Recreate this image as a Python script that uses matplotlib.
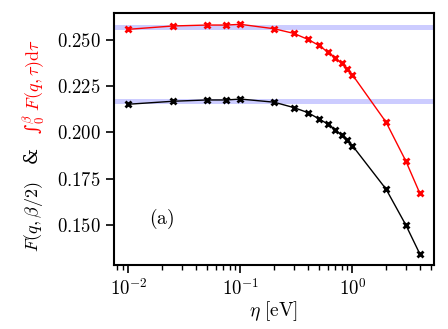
import numpy as np
import matplotlib
matplotlib.use("Agg")
import matplotlib.pyplot as plt
from matplotlib.ticker import FixedLocator, FuncFormatter, LogLocator, NullFormatter, NullLocator

plt.rcParams["mathtext.fontset"] = "cm"
plt.rcParams["font.family"] = "serif"

# eta values [eV]
eta = [0.01, 0.025, 0.05, 0.075, 0.1, 0.2, 0.3, 0.4, 0.5, 0.6, 0.7, 0.8, 0.9, 1.0, 2.0, 3.0, 4.0]

# integral over tau (red)
f_int = [0.2555, 0.2573, 0.2578, 0.2578, 0.2582, 0.2558, 0.2533, 0.2501, 0.2469,
         0.2434, 0.2402, 0.2372, 0.2341, 0.2310, 0.2054, 0.1845, 0.1671]

# F(q, beta/2) (black)
f_half = [0.2151, 0.2167, 0.2174, 0.2174, 0.2179, 0.2162, 0.2133, 0.2106, 0.2073,
          0.2045, 0.2014, 0.1985, 0.1957, 0.1928, 0.1693, 0.1500, 0.1344]

# reference levels (blue bands)
ref_int = 0.2569
ref_half = 0.2167

y_ticks = [0.150, 0.175, 0.200, 0.225, 0.250]
x_ticks = [0.01, 0.1, 1.0]
x_labels = [r"$10^{-2}$", r"$10^{-1}$", r"$10^{0}$"]

fig = plt.figure(figsize=(4.48, 3.29), dpi=100)
ax = fig.add_axes([0.2545, 0.1945, 0.7143, 0.766])

ax.axhline(ref_int, color="#ccccff", lw=3.6, zorder=1)
ax.axhline(ref_half, color="#ccccff", lw=3.6, zorder=1)

ax.plot(eta, f_int, color="red", lw=1.0, marker="x", ms=5, mew=2, zorder=3)
ax.plot(eta, f_half, color="black", lw=1.0, marker="x", ms=5, mew=2, zorder=3)

ax.set_xscale("log")
ax.set_xlim(10 ** -2.128, 10 ** 0.729)
ax.set_ylim(0.1284, 0.2643)

ax.xaxis.set_major_locator(FixedLocator(x_ticks))
ax.set_xticklabels(x_labels)
ax.xaxis.set_minor_locator(LogLocator(base=10, subs=np.arange(2, 10)))
ax.xaxis.set_minor_formatter(NullFormatter())
ax.yaxis.set_major_locator(FixedLocator(y_ticks))
ax.yaxis.set_minor_locator(NullLocator())
ax.yaxis.set_major_formatter(FuncFormatter(lambda v, p: f"${v:.3f}$"))

ax.tick_params(axis="both", which="major", direction="out", length=6, width=1.2,
               labelsize=13.5, top=False, right=False)
ax.tick_params(axis="x", which="minor", direction="out", length=3.5, width=1.0, top=False)
for s in ax.spines.values():
    s.set_linewidth(1.5)

ax.set_xlabel(r"$\eta\ \mathrm{[eV]}$", fontsize=14, labelpad=0)
ax.text(0.01 * 10 ** 0.3, 0.153, r"$\mathrm{(a)}$", fontsize=14, ha="center", va="center")

fig.text(0.075, (329 - 252) / 329, r"$F(q,\beta/2)$   &", rotation=90,
         fontsize=13, color="black", ha="center", va="bottom")
fig.text(0.075, (329 - 134) / 329, "\u222b" + r"${}_0^\beta\ F(q,\tau)\mathrm{d}\tau$", rotation=90,
         fontsize=13, color="red", ha="center", va="bottom")

fig.savefig("out.png", dpi=100)
